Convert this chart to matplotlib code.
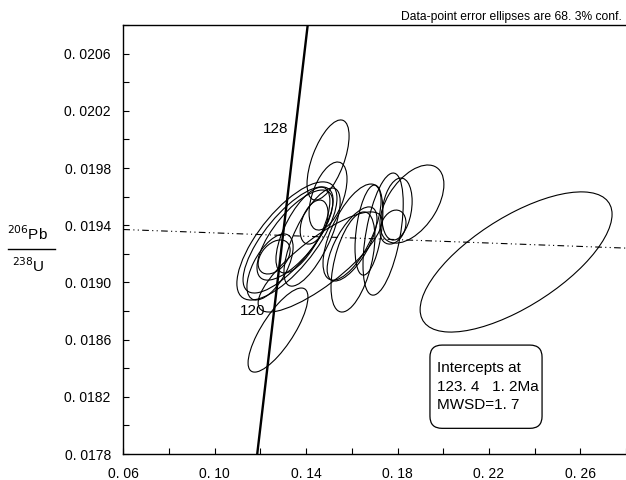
import numpy as np
import matplotlib
matplotlib.use("Agg")
import matplotlib.pyplot as plt
from matplotlib.patches import Ellipse, FancyBboxPatch

# ======================================
# DATA
# ======================================

# ellipse centres (207Pb/235U, 206Pb/238U), half-extents and correlation
ell_x = [0.2319, 0.1863, 0.1798, 0.1780, 0.1737, 0.1601, 0.1601, 0.1605,
         0.1675, 0.1496, 0.1496, 0.1316, 0.1321, 0.1351, 0.1260, 0.1386,
         0.1426, 0.1242, 0.1435, 0.1461, 0.1277]
ell_y = [0.019143, 0.019548, 0.019513, 0.019387, 0.019338, 0.019352,
         0.019269, 0.019143, 0.019366, 0.019856, 0.019604, 0.019290,
         0.019297, 0.019331, 0.019178, 0.019366, 0.019317, 0.019108,
         0.019422, 0.019143, 0.018667]
ell_sx = [0.0420, 0.0140, 0.0066, 0.0057, 0.0088, 0.0127, 0.0109, 0.0096,
          0.0061, 0.0092, 0.0083, 0.0219, 0.0197, 0.0166, 0.0070, 0.0118,
          0.0123, 0.0101, 0.0061, 0.0271, 0.0131]
ell_sy = [0.000490, 0.000273, 0.000217, 0.000119, 0.000427, 0.000336,
          0.000259, 0.000350, 0.000315, 0.000280, 0.000238, 0.000413,
          0.000371, 0.000315, 0.000119, 0.000300, 0.000343, 0.000231,
          0.000154, 0.000350, 0.000294]
ell_rho = [0.68, 0.50, 0.25, 0.25, 0.50, 0.65, 0.68, 0.50, 0.40, 0.60,
           0.50, 0.72, 0.75, 0.72, 0.40, 0.68, 0.72, 0.60, 0.40, 0.82, 0.78]

concordia_x = [0.1186, 0.1407]
concordia_y = [0.0178, 0.0208]
age_labels = ["120", "128"]
age_x = [0.1167, 0.1268]
age_y = [0.0188, 0.02007]

discordia_x = [0.06, 0.28]
discordia_y = [0.01937, 0.01924]

x_ticks = np.round(np.arange(0.06, 0.2801, 0.02), 2)
y_ticks = np.round(np.arange(0.0178, 0.02081, 0.0002), 4)

# ======================================
# FIGURE
# ======================================

plt.rcParams["font.family"] = ["Liberation Sans", "DejaVu Sans"]

fig = plt.figure(figsize=(6.26, 4.8), dpi=100)
ax = fig.add_axes([0.197, 0.054, 0.803, 0.894])

ax.set_xlim(0.06, 0.28)
ax.set_ylim(0.0178, 0.0208)

for cx, cy, sx, sy, r in zip(ell_x, ell_y, ell_sx, ell_sy, ell_rho):
    cov = np.array([[sx * sx, r * sx * sy], [r * sx * sy, sy * sy]])
    vals, vecs = np.linalg.eigh(cov)
    ang = np.degrees(np.arctan2(vecs[1, 1], vecs[0, 1]))
    e = Ellipse((cx, cy), 2 * np.sqrt(vals[1]), 2 * np.sqrt(vals[0]),
                angle=ang, fill=False, edgecolor="black", linewidth=0.8)
    ax.add_patch(e)

ax.plot(concordia_x, concordia_y, color="black", linewidth=1.7)
for lab, lx, ly in zip(age_labels, age_x, age_y):
    ax.text(lx, ly, lab, fontsize=11, ha="center", va="center")

ax.plot(discordia_x, discordia_y, color="black", linewidth=0.8,
        linestyle=(0, (6, 3, 1, 3, 1, 3)))

# ======================================
# AXES
# ======================================

ax.set_xticks(x_ticks)
ax.set_xticklabels([("%.2f" % v).replace(".", ". ") if i % 2 == 0 else ""
                    for i, v in enumerate(x_ticks)])
ax.set_yticks(y_ticks)
ax.set_yticklabels([("%.4f" % v).replace(".", ". ") if i % 2 == 0 else ""
                    for i, v in enumerate(y_ticks)])
ax.tick_params(direction="in", length=4, width=0.8, labelsize=10)
ax.tick_params(axis="y", pad=9)
ax.tick_params(axis="x", pad=9)
ax.spines["right"].set_visible(False)
for s in ["left", "bottom", "top"]:
    ax.spines[s].set_linewidth(1.0)

# y label as a fraction
fig.text(0.044, 0.500, "$^{206}$Pb", fontsize=11, ha="center", va="baseline")
fig.text(0.045, 0.465, "$^{238}$U", fontsize=11, ha="center", va="top")
fig.add_artist(plt.Line2D([0.013, 0.088], [0.481, 0.481],
                          transform=fig.transFigure, color="black",
                          linewidth=1.0))

fig.text(0.994, 0.952, "Data-point error ellipses are 68. 3% conf.",
         fontsize=8.7, ha="right", va="bottom")

# intercept box
box = FancyBboxPatch((0.610, 0.060), 0.223, 0.194,
                     boxstyle="round,pad=0,rounding_size=0.024",
                     mutation_aspect=1.17, transform=ax.transAxes,
                     facecolor="white", edgecolor="black", linewidth=0.9)
ax.add_patch(box)
ax.text(0.624, 0.200, "Intercepts at", transform=ax.transAxes,
        fontsize=11, va="center")
ax.text(0.624, 0.156, "123. 4   1. 2Ma", transform=ax.transAxes,
        fontsize=11, va="center")
ax.text(0.624, 0.114, "MWSD=1. 7", transform=ax.transAxes,
        fontsize=11, va="center")

fig.savefig("out.png", dpi=100)
